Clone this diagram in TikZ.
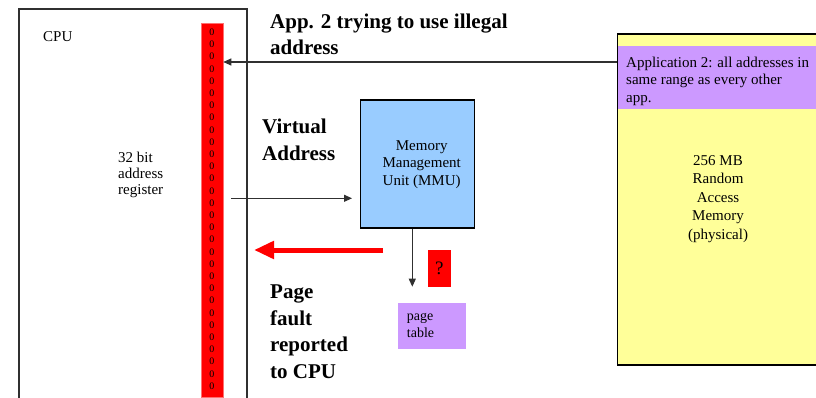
\documentclass[tikz,border=0pt]{standalone}
\usepackage{fontspec}
\setmainfont{Liberation Serif}
\usetikzlibrary{arrows.meta}
\definecolor{regred}{HTML}{FF0000}
\definecolor{regedge}{HTML}{FF7070}
\definecolor{mmublue}{HTML}{99CCFF}
\definecolor{lilac}{HTML}{CC99FF}
\definecolor{ramyellow}{HTML}{FFFF99}
\definecolor{wire}{HTML}{303030}
\tikzset{
  small/.style={font=\fontsize{15}{17.5}\selectfont, inner sep=0pt},
  bigbold/.style={font=\fontsize{21}{26.5}\selectfont\bfseries, inner sep=0pt, align=left, anchor=north west},
  wireline/.style={draw=wire, line width=1.1pt},
  thinarrow/.style={wireline, -{Triangle[length=8pt, width=7pt]}},
  faultarrow/.style={draw=regred, line width=5pt, -{Triangle[length=20pt, width=17pt]}},
  bit/.style={font=\fontsize{10}{10}\selectfont, inner sep=0pt}
}
\begin{document}
\begin{tikzpicture}[x=1pt, y=-1pt]
  \useasboundingbox (0,0) rectangle (816,398);
  \clip (0,0) rectangle (816,398);

  % CPU enclosure, open at the bottom
  \draw[wireline] (19,400) -- (19,9) -- (247,9) -- (247,400);
  \node[small, anchor=north west] (cpu) at (43,31.7) {CPU};
  \node[small, anchor=north west, align=left, font=\fontsize{15}{16}\selectfont] (reglabel) at (118,151.7) {32 bit\\address\\register};

  % 32 bit address register
  \node[fill=regred, draw=regedge, line width=0.6pt, minimum width=22pt, minimum height=374pt, inner sep=0pt, anchor=north west] (reg) at (200.7,23.3) {};
  \foreach \i in {0,...,29} {
    \node[bit] (bit\i) at (211.8, 32.3+\i*12.2) {0};
  }

  % physical memory
  \node[fill=ramyellow, draw=black, line width=1.4pt, minimum width=230pt, minimum height=331pt, inner sep=0pt, anchor=north west] (ram) at (617,33.3) {};
  \node[fill=lilac, minimum width=210pt, minimum height=63pt, inner sep=0pt, anchor=north west] (app2) at (617.7,46) {};
  \node[small, anchor=north west, align=left] (app2text) at (626,56.7) {Application 2: all addresses in\\same range as every other\\app.};
  \node[small, anchor=north, align=center, font=\fontsize{15}{18.5}\selectfont] (ramtext) at (718,155) {256 MB\\Random\\Access\\Memory\\(physical)};

  % illegal address arrives at the register
  \coordinate (a2) at (617,62);
  \draw[thinarrow] (a2) -- (reg.east |- a2);
  \node[bigbold] (illegal) at (270,13.5) {App. 2 trying to use illegal\\address};

  % memory management unit
  \node[fill=mmublue, draw=black, line width=1.4pt, minimum width=114pt, minimum height=128pt, inner sep=0pt, anchor=north west] (mmu) at (360,99.3) {};
  \node[small, anchor=north, align=center] (mmutext) at (421.7,140) {Memory\\Management\\Unit (MMU)};

  \node[bigbold] (virt) at (262,119) {Virtual\\Address};
  \coordinate (va) at (231,198.3);
  \draw[thinarrow, shorten >=8pt] (va) -- (mmu.west |- va);

  % page table lookup
  \node[fill=lilac, minimum width=68pt, minimum height=46pt, inner sep=0pt, anchor=north west] (pt) at (397.3,302.7) {};
  \node[small, anchor=north west, align=left, font=\fontsize{14}{17}\selectfont] (pttext) at (406.7,313) {page\\table};
  \coordinate (lk) at (412.3,0);
  \draw[thinarrow, shorten >=16pt] (mmu.south -| lk) -- (pt.north -| lk);
  \node[fill=regred, minimum width=23pt, minimum height=37pt, inner sep=0pt, anchor=north west, font=\fontsize{19}{19}\selectfont] (q) at (427.7,250) {?};

  % page fault back to the CPU
  \coordinate (pfstart) at (383,250);
  \coordinate (pfend) at (254,250);
  \draw[faultarrow] (pfstart) -- (pfend);
  \node[bigbold] (fault) at (270,285) {Page\\fault\\reported\\to CPU};
\end{tikzpicture}
\end{document}
